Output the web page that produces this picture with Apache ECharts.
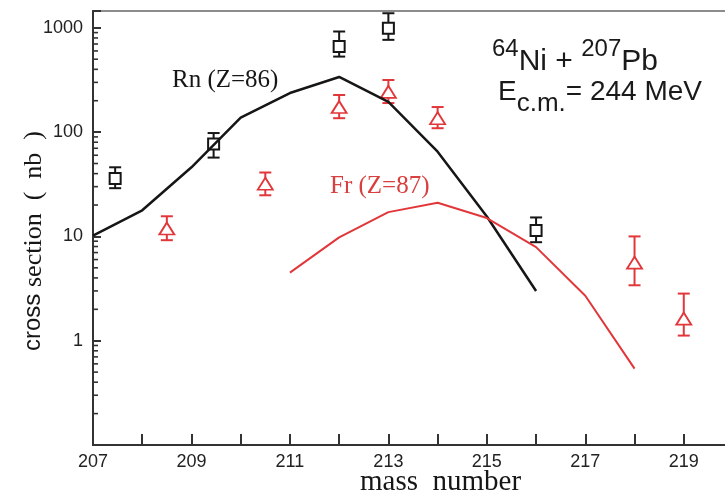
<!DOCTYPE html>
<html><head><meta charset="utf-8">
<script src="https://cdn.jsdelivr.net/npm/echarts@6/dist/echarts.min.js"></script>
<style>html,body{margin:0;padding:0;background:#fff}#c{width:725px;height:495px}</style>
</head><body><div id="c"></div>
<script>
// ---- data ----
const xLabels = ['207', '209', '211', '213', '215', '217', '219'];
const yLabels = ['1', '10', '100', '1000'];
const minorTickValues = [0.2,0.3,0.4,0.5,0.6,0.7,0.8,0.9, 2,3,4,5,6,7,8,9, 20,30,40,50,60,70,80,90, 200,300,400,500,600,700,800,900];

const rnCalcMass = [207, 208, 209, 210, 211, 212, 213, 214, 215, 216];
const rnCalc     = [10.2, 17.8, 46, 138, 237, 338, 195, 65, 15.5, 3.0];
const frCalcMass = [211, 212, 213, 214, 215, 216, 217, 218];
const frCalc     = [4.5, 9.8, 17.1, 21, 15, 7.9, 2.7, 0.54];

const rnExpMass = [207.45, 209.45, 212, 213, 216];
const rnExp     = [36, 77, 662, 993, 11.4];
const rnExpLow  = [29, 57, 530, 767, 8.8];
const rnExpHigh = [46, 98, 922, 1380, 15.2];

const frExpMass = [208.5, 210.5, 212, 213, 214, 218, 219];
const frExp     = [11.9, 32, 174, 243, 136, 5.6, 1.63];
const frExpLow  = [9.2, 24.8, 136, 190, 109, 3.4, 1.12];
const frExpHigh = [15.6, 41, 227, 316, 174, 10, 2.83];

// ---- helpers ----
const BLACK = '#161616', RED = '#e2373a';
const zip = (a, b) => a.map((v, i) => [v, b[i]]);
const zip3 = (a, b, c) => a.map((v, i) => [v, b[i], c[i]]);
const cv = document.createElement('canvas').getContext('2d');
function measure(t, font) { cv.font = font; return cv.measureText(t).width; }
function sans(s) { return s + 'px "Liberation Sans", Arial, sans-serif'; }
function serif(s) { return s + 'px "Liberation Serif", "Times New Roman", serif'; }
function txt(t, x, baseline, size, fam, color, extra) {
  const font = fam === 'serif' ? serif(size) : sans(size);
  const off = fam === 'serif' ? 0.3375 : 0.3465;
  return Object.assign({ type: 'text', x: x, y: baseline - off * size, z: 100, silent: true,
    style: { text: t, font: font, fill: color || '#1a1a1a', align: 'left', verticalAlign: 'middle' } }, extra || {});
}
function flow(pieces, x0) {
  let x = x0; const out = [];
  pieces.forEach(p => {
    out.push(txt(p.t, x, p.b, p.s, p.f || 'sans', p.c));
    x += measure(p.t, p.f === 'serif' ? serif(p.s) : sans(p.s));
  });
  return out;
}
function errRender(color) {
  return function (params, api) {
    const x = api.value(0);
    const lo = api.coord([x, api.value(1)]);
    const hi = api.coord([x, api.value(2)]);
    const w = 6, st = { stroke: color, lineWidth: 2 };
    return { type: 'group', children: [
      { type: 'line', shape: { x1: lo[0], y1: lo[1], x2: hi[0], y2: hi[1] }, style: st },
      { type: 'line', shape: { x1: lo[0] - w, y1: lo[1], x2: lo[0] + w, y2: lo[1] }, style: st },
      { type: 'line', shape: { x1: hi[0] - w, y1: hi[1], x2: hi[0] + w, y2: hi[1] }, style: st }
    ] };
  };
}

const graphics = [].concat(
  [txt('Rn (Z=86)', 172, 89, 25, 'serif', BLACK)],
  [txt('Fr (Z=87)', 330, 195, 25, 'serif', '#d8403f')],
  flow([{ t: '64', s: 24, b: 58 }, { t: 'Ni + ', s: 30, b: 72 }, { t: '207', s: 24, b: 58 }, { t: 'Pb', s: 30, b: 72 }], 492),
  flow([{ t: 'E', s: 28, b: 102 }, { t: 'c.m.', s: 26, b: 113 }, { t: '= 244 MeV', s: 28, b: 102 }], 498),
  [txt('mass  number', 360, 492, 29, 'serif', BLACK)],
  [
    Object.assign(txt('cross', 0, 0, 24, 'sans', BLACK), { x: 42 - 0.3465 * 24, y: 351, rotation: Math.PI / 2 }),
    Object.assign(txt('section  (  nb  )', 0, 0, 26, 'serif', BLACK), { x: 43 - 0.3375 * 26, y: 287, rotation: Math.PI / 2 })
  ]
);

const chart = echarts.init(document.getElementById('c'));
chart.setOption({
  animation: false,
  backgroundColor: '#ffffff',
  grid: { left: 93, top: 11, width: 640, height: 434, outerBoundsMode: 'none', containLabel: false,
    show: true, borderColor: '#8c8c8c', borderWidth: 2 },
  xAxis: {
    type: 'value', min: 207, max: 220, interval: 1,
    axisLine: { lineStyle: { color: '#333', width: 2 } },
    axisTick: { inside: true, length: 11, lineStyle: { color: '#333', width: 2 } },
    splitLine: { show: false },
    axisLabel: { margin: 8, color: '#222', fontSize: 18, fontFamily: '"Liberation Sans", Arial, sans-serif',
      formatter: v => xLabels.includes(String(v)) ? String(v) : '' }
  },
  yAxis: {
    type: 'log', logBase: 10, min: 0.1, max: 1450,
    axisLine: { show: true, lineStyle: { color: '#333', width: 2 } },
    axisTick: { show: true, inside: true, length: 8, lineStyle: { color: '#333', width: 2 } },
    splitLine: { show: false },
    axisLabel: { margin: 10, color: '#222', fontSize: 18, fontFamily: '"Liberation Sans", Arial, sans-serif',
      formatter: v => { const s = String(Math.round(v * 1000) / 1000); return yLabels.includes(s) ? s : ''; } }
  },
  graphic: graphics,
  series: [
    { type: 'custom', silent: true, z: 10, clip: false, encode: { x: 0, y: 1 },
      data: minorTickValues.map(v => [207, v]),
      renderItem: (params, api) => {
        const p = api.coord([207, api.value(1)]);
        return { type: 'line', shape: { x1: p[0], y1: p[1], x2: p[0] + 5, y2: p[1] }, style: { stroke: '#333', lineWidth: 1.6 } };
      } },
    { type: 'custom', silent: true, z: 3, encode: { x: 0, y: [1, 2] },
      data: zip3(rnExpMass, rnExpLow, rnExpHigh), renderItem: errRender(BLACK) },
    { type: 'custom', silent: true, z: 3, encode: { x: 0, y: [1, 2] },
      data: zip3(frExpMass, frExpLow, frExpHigh), renderItem: errRender(RED) },
    { type: 'scatter', z: 4, symbol: 'rect', symbolSize: 11, data: zip(rnExpMass, rnExp),
      itemStyle: { color: '#fff', borderColor: BLACK, borderWidth: 2, opacity: 1 } },
    { type: 'scatter', z: 4, symbol: 'triangle', symbolSize: [15, 12], data: zip(frExpMass, frExp),
      itemStyle: { color: '#fff', borderColor: RED, borderWidth: 1.8, opacity: 1 } },
    { type: 'line', z: 5, symbol: 'none', data: zip(rnCalcMass, rnCalc),
      lineStyle: { color: BLACK, width: 2.5 } },
    { type: 'line', z: 5, symbol: 'none', data: zip(frCalcMass, frCalc),
      lineStyle: { color: RED, width: 2 } }
  ]
});
</script>
</body></html>
